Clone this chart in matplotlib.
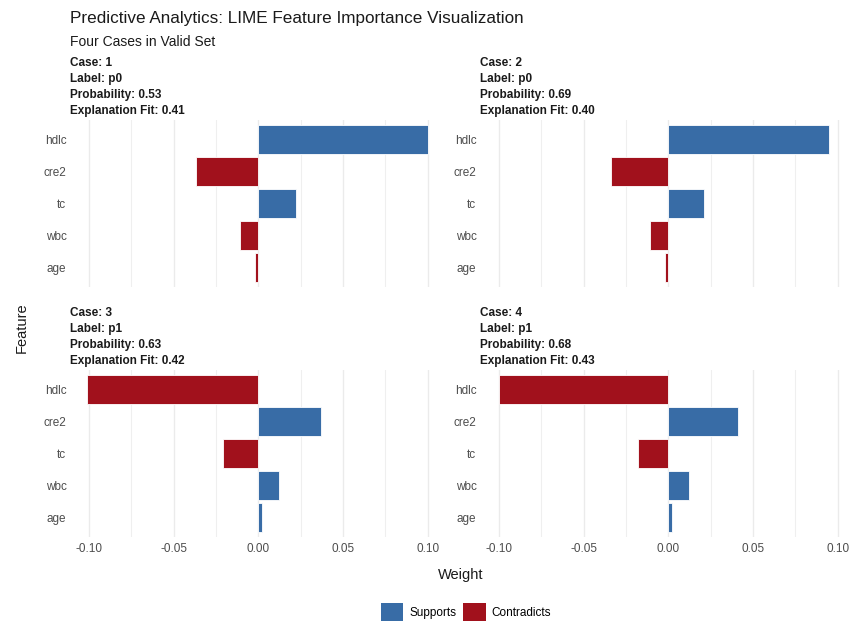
import matplotlib.pyplot as plt
import matplotlib
from matplotlib.patches import Patch
import numpy as np

matplotlib.rcParams['font.family'] = ['Liberation Sans', 'DejaVu Sans']

features = ['hdlc', 'cre2', 'tc', 'wbc', 'age']
case_ids = [1, 2, 3, 4]
case_labels = ['p0', 'p0', 'p1', 'p1']
probabilities = [0.53, 0.69, 0.63, 0.68]
fits = [0.41, 0.40, 0.42, 0.43]
w_case1 = [0.100, -0.037, 0.022, -0.011, -0.002]
w_case2 = [0.095, -0.034, 0.021, -0.011, -0.002]
w_case3 = [-0.101, 0.037, -0.021, 0.012, 0.002]
w_case4 = [-0.100, 0.041, -0.018, 0.012, 0.002]
weights = [w_case1, w_case2, w_case3, w_case4]

BLUE = '#386CA6'
RED = '#A1111C'
W, H = 851, 624

fig = plt.figure(figsize=(W / 100, H / 100), dpi=100)


def px_axes(x0, y0, x1, y1):
    return fig.add_axes([x0 / W, 1 - y1 / H, (x1 - x0) / W, (y1 - y0) / H])


# panel boxes in pixels: (left, top, right, bottom)
boxes = [(72, 120, 438, 287), (482, 120, 848, 287),
         (72, 370, 438, 537), (482, 370, 848, 537)]
xlim = (-0.11, 0.106)

for i, (box, w) in enumerate(zip(boxes, weights)):
    ax = px_axes(*box)
    ypos = np.arange(len(features))
    cols = [BLUE if v >= 0 else RED for v in w]
    ax.barh(ypos, w, height=0.9, color=cols, edgecolor='white', linewidth=0.6, zorder=3)
    ax.set_xlim(*xlim)
    ax.set_ylim(len(features) - 0.4, -0.6)
    ax.set_yticks(ypos)
    ax.set_yticklabels(features, fontsize=8.5, color='#4D4D4D')
    ax.set_xticks([-0.1, -0.05, 0, 0.05, 0.1])
    ax.set_xticks([-0.075, -0.025, 0.025, 0.075], minor=True)
    ax.grid(axis='x', which='major', color='#EBEBEB', linewidth=1.0, zorder=0)
    ax.grid(axis='x', which='minor', color='#EFEFEF', linewidth=0.8, zorder=0)
    ax.tick_params(length=0, which='both', pad=4)
    for s in ax.spines.values():
        s.set_visible(False)
    if i >= 2:
        ax.set_xticklabels(['-0.10', '-0.05', '0.00', '0.05', '0.10'],
                           fontsize=8.5, color='#4D4D4D')
    else:
        ax.set_xticklabels([])

    # strip text
    top = box[1]
    strip = [f'Case: {case_ids[i]}', f'Label: {case_labels[i]}',
             f'Probability: {probabilities[i]:.2f}',
             f'Explanation Fit: {fits[i]:.2f}']
    for k, line in enumerate(strip):
        fig.text((box[0] - 2) / W, 1 - (top - 57 + 16 * k) / H, line,
                 fontsize=8.5, fontweight='bold', color='#1A1A1A', va='center', ha='left')

fig.text(70 / W, 1 - 18 / H, 'Predictive Analytics: LIME Feature Importance Visualization',
         fontsize=12.3, va='center', ha='left', color='#1A1A1A')
fig.text(70 / W, 1 - 42 / H, 'Four Cases in Valid Set',
         fontsize=10, va='center', ha='left', color='#1A1A1A')

fig.text(22 / W, 1 - 328 / H, 'Feature', rotation=90, fontsize=10.5,
         va='center', ha='center', color='#1A1A1A')
fig.text(461 / W, 1 - 575 / H, 'Weight', fontsize=10.5,
         va='center', ha='center', color='#1A1A1A')

handles = [Patch(facecolor=BLUE, label='Supports'),
           Patch(facecolor=RED, label='Contradicts')]
fig.legend(handles=handles, loc='center', bbox_to_anchor=(466 / W, 1 - 612 / H),
           ncol=2, frameon=False, fontsize=8.5, handlelength=1.9, handleheight=2.0,
           columnspacing=0.6, handletextpad=0.5)

fig.savefig('out.png', dpi=100)
